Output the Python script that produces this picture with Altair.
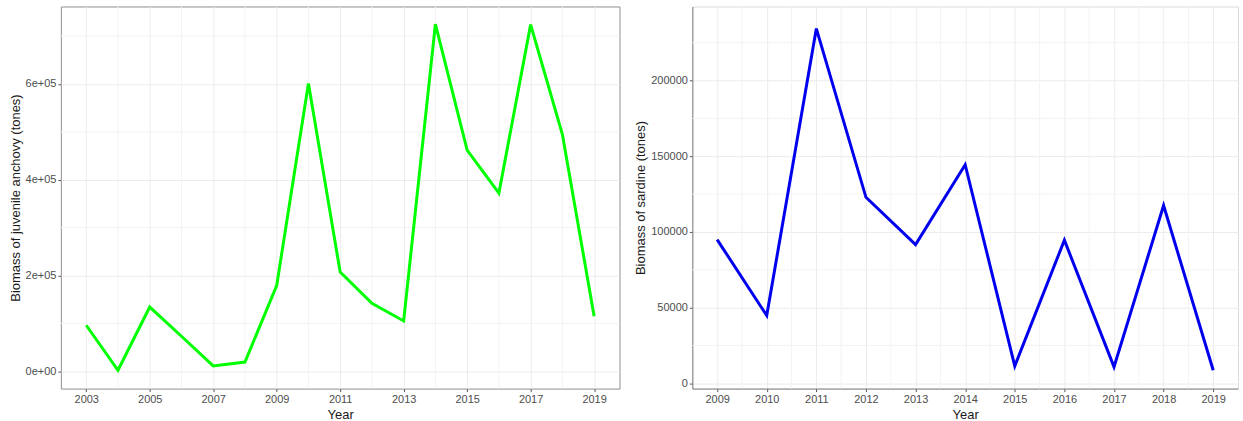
import altair as alt
import pandas as pd

# Juvenile anchovy biomass (tonnes) by survey year
anchovy_years = list(range(2003, 2020))
anchovy_biomass = [96000, 2000, 134000, 73000, 11000, 19000, 179000, 601000,
                   207000, 142000, 105000, 725000, 462000, 372000, 724000,
                   495000, 115000]

# Sardine biomass (tonnes) by survey year
sardine_years = list(range(2009, 2020))
sardine_biomass = [95000, 44800, 234300, 122900, 91700, 144400, 11500, 94600,
                   10900, 117500, 8700]

# Axis ticks and minor grid positions
anchovy_x_ticks = list(range(2003, 2020, 2))
anchovy_x_minor = list(range(2004, 2019, 2))
anchovy_y_ticks = [0, 200000, 400000, 600000]
anchovy_y_minor = [100000, 300000, 500000, 700000]

sardine_x_ticks = list(range(2009, 2020))
sardine_x_minor = [y + 0.5 for y in range(2009, 2019)]
sardine_y_ticks = [0, 50000, 100000, 150000, 200000]
sardine_y_minor = [25000, 75000, 125000, 175000, 225000]

MAJOR_GRID = "#ebebeb"
MINOR_GRID = "#f3f3f3"
FONT = "Liberation Sans"


def axis(values, title, domain_color=None, label_expr=None, fmt="d",
         title_padding=2):
    kw = dict(
        values=values, title=title, grid=True, gridColor=MAJOR_GRID,
        gridWidth=1, labelFontSize=11, labelColor="#4d4d4d", labelFont=FONT,
        tickColor="#555555", tickSize=3, labelPadding=2,
        titleFontSize=13, titleColor="#1a1a1a", titleFont=FONT,
        titleFontWeight="normal", titlePadding=title_padding,
        labelFlush=False, labelOverlap=False,
    )
    if fmt:
        kw["format"] = fmt
    if label_expr:
        kw["labelExpr"] = label_expr
    if domain_color:
        kw["domain"] = True
        kw["domainColor"] = domain_color
        kw["domainWidth"] = 1
    else:
        kw["domain"] = False
    return alt.Axis(**kw)


def panel(years, biomass, color, x_dom, y_dom, x_ticks, x_minor, y_ticks,
          y_minor, y_title, y_label_expr, domain_color, y_title_pad):
    xs = alt.Scale(domain=x_dom, nice=False, zero=False)
    ys = alt.Scale(domain=y_dom, nice=False, zero=False)
    x_axis = axis(x_ticks, "Year", domain_color, title_padding=4)
    y_axis = axis(y_ticks, y_title, domain_color, y_label_expr,
                  fmt=None if y_label_expr else "d",
                  title_padding=y_title_pad)

    vminor = alt.Chart(pd.DataFrame({"v": x_minor})).mark_rule(
        color=MINOR_GRID, strokeWidth=1
    ).encode(x=alt.X("v:Q", scale=xs, axis=x_axis))
    hminor = alt.Chart(pd.DataFrame({"v": y_minor})).mark_rule(
        color=MINOR_GRID, strokeWidth=1
    ).encode(y=alt.Y("v:Q", scale=ys, axis=y_axis))
    line = alt.Chart(pd.DataFrame({"year": years, "biomass": biomass})).mark_line(
        color=color, strokeWidth=3, strokeJoin="miter", strokeCap="butt"
    ).encode(
        x=alt.X("year:Q", scale=xs, axis=x_axis),
        y=alt.Y("biomass:Q", scale=ys, axis=y_axis),
    )
    return alt.layer(vminor, hminor, line)


left = panel(
    anchovy_years, anchovy_biomass, "#00ff00",
    [2002.2, 2019.8], [-36280, 761880],
    anchovy_x_ticks, anchovy_x_minor, anchovy_y_ticks, anchovy_y_minor,
    "Biomass of juvenile anchovy (tones)",
    "replace(format(datum.value, '.0e'), 'e+', 'e+0')",
    None, 3,
).properties(
    width=560, height=383,
    view=alt.ViewBackground(stroke="#8f8f8f", strokeWidth=1),
)

# a little headroom above the sardine panel's expanded range
right = panel(
    sardine_years, sardine_biomass, "#0000ee",
    [2008.5, 2019.5], [-3400, 248900],
    sardine_x_ticks, sardine_x_minor, sardine_y_ticks, sardine_y_minor,
    "Biomass of sardine (tones)", None,
    "#808080", 3,
).properties(
    width=547, height=383,
    view=alt.ViewBackground(stroke="#dcdcdc", strokeWidth=1),
)

chart = alt.hconcat(left, right, spacing=13).properties(
    padding={"left": 8, "top": 5, "right": 4, "bottom": 0},
    background="white",
).configure(font=FONT)

chart.save("out.html", embed_options={"renderer": "svg", "actions": False})
